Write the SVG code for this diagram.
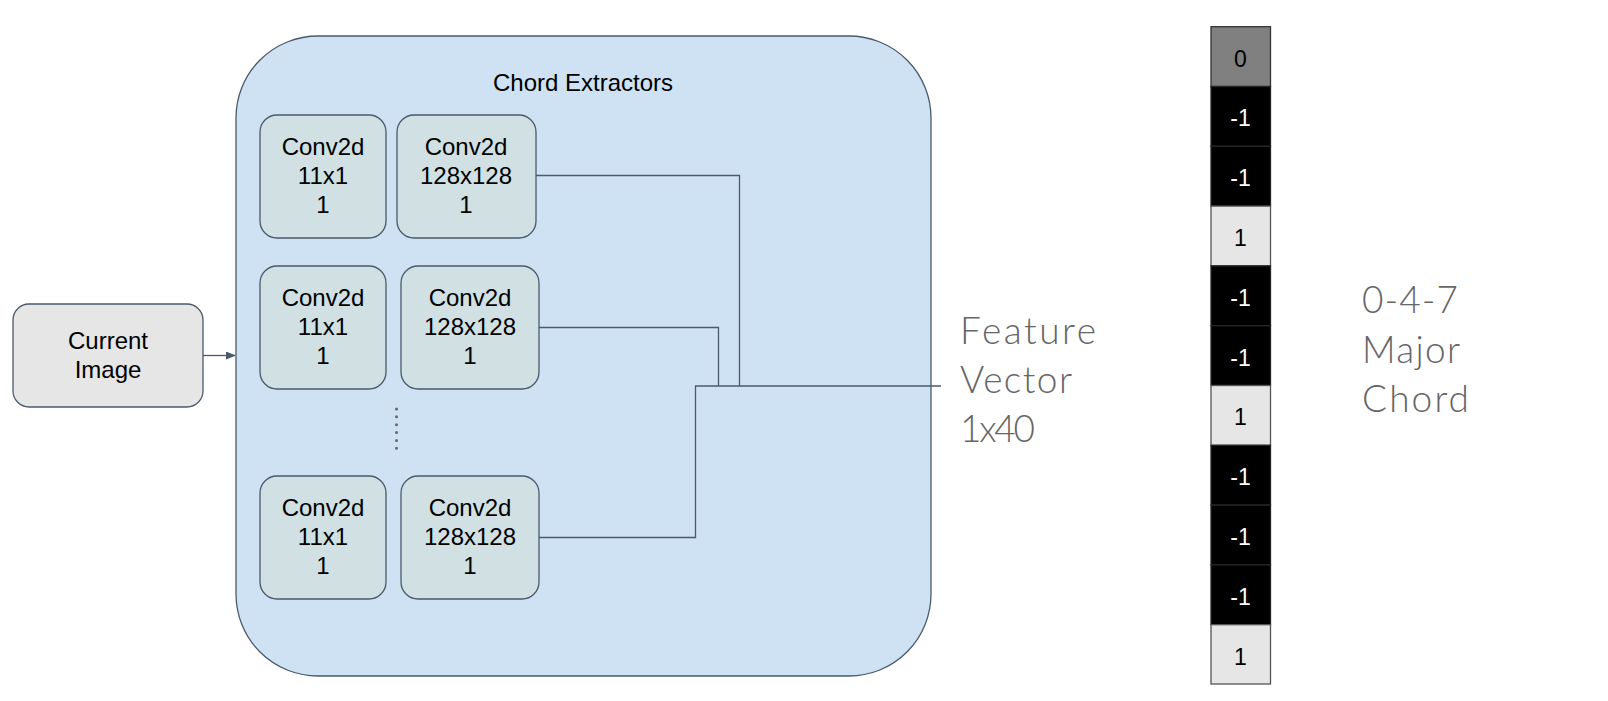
<svg xmlns="http://www.w3.org/2000/svg" width="1608" height="701" viewBox="0 0 1608 701">
<style>
.box{fill:#d0e0e3;stroke:#4a5a6b;stroke-width:1.3}
.t{font-family:"Liberation Sans",Arial,sans-serif;font-size:24px;fill:#000;text-anchor:middle}
.big{font-family:Lato,"Open Sans",sans-serif;font-weight:300;font-size:37px;fill:#666}
.ln{fill:none;stroke:#4a5a6b;stroke-width:1.3}
.neg{fill:#000;stroke:#262626;stroke-width:1.3}
.pos{fill:#e6e6e6;stroke:#555;stroke-width:1.3}
.wt{font-family:"Liberation Sans",Arial,sans-serif;font-size:23px;fill:#fff;text-anchor:middle}
.bt{font-family:"Liberation Sans",Arial,sans-serif;font-size:23px;fill:#000;text-anchor:middle}
</style>
<defs>
<marker id="ah" markerWidth="10" markerHeight="8" refX="9" refY="4" orient="auto" markerUnits="userSpaceOnUse">
<path d="M0,0 L10,4 L0,8 z" fill="#4a5a6b"/>
</marker>
</defs>
<rect width="1608" height="701" fill="#fff"/>
<g id="container">
<rect x="236" y="36" width="695" height="640" rx="82" ry="82" fill="#cfe2f3" stroke="#4a5a6b" stroke-width="1.3"/>
<text class="t" x="583" y="91">Chord Extractors</text>
</g>
<g id="current-image">
<rect x="13" y="304" width="190" height="103" rx="16" fill="#e6e6e6" stroke="#4a5a6b" stroke-width="1.3"/>
<text class="t" x="108" y="349">Current</text>
<text class="t" x="108" y="378">Image</text>
</g>
<g id="conv-a1">
<rect class="box" x="260" y="115" width="126" height="123" rx="17"/>
<text class="t" x="323" y="155">Conv2d</text>
<text class="t" x="323" y="184">11x1</text>
<text class="t" x="323" y="213">1</text>
</g>
<g id="conv-b1">
<rect class="box" x="397" y="115" width="139" height="123" rx="17"/>
<text class="t" x="466" y="155">Conv2d</text>
<text class="t" x="466" y="184">128x128</text>
<text class="t" x="466" y="213">1</text>
</g>
<g id="conv-a2">
<rect class="box" x="260" y="266" width="126" height="123" rx="17"/>
<text class="t" x="323" y="306">Conv2d</text>
<text class="t" x="323" y="335">11x1</text>
<text class="t" x="323" y="364">1</text>
</g>
<g id="conv-b2">
<rect class="box" x="401" y="266" width="138" height="123" rx="17"/>
<text class="t" x="470" y="306">Conv2d</text>
<text class="t" x="470" y="335">128x128</text>
<text class="t" x="470" y="364">1</text>
</g>
<g id="dots">
<line x1="396.5" y1="409" x2="396.5" y2="449" stroke="#666" stroke-width="3" stroke-linecap="round" stroke-dasharray="0 7.86"/>
</g>
<g id="conv-a3">
<rect class="box" x="260" y="476" width="126" height="123" rx="17"/>
<text class="t" x="323" y="516">Conv2d</text>
<text class="t" x="323" y="545">11x1</text>
<text class="t" x="323" y="574">1</text>
</g>
<g id="conv-b3">
<rect class="box" x="401" y="476" width="138" height="123" rx="17"/>
<text class="t" x="470" y="516">Conv2d</text>
<text class="t" x="470" y="545">128x128</text>
<text class="t" x="470" y="574">1</text>
</g>
<g id="connectors">
<line class="ln" x1="203" y1="355.5" x2="235" y2="355.5" marker-end="url(#ah)"/>
<polyline class="ln" points="536,175.5 739.5,175.5 739.5,386"/>
<polyline class="ln" points="539,327.5 718.5,327.5 718.5,386"/>
<polyline class="ln" points="539,537.5 695.5,537.5 695.5,386"/>
<line class="ln" x1="695" y1="386" x2="941" y2="386"/>
</g>
<g id="feature-vector">
<text class="big" x="960" y="344" textLength="136" lengthAdjust="spacing">Feature</text>
<text class="big" x="960" y="393" textLength="112" lengthAdjust="spacing">Vector</text>
<text class="big" x="960" y="442" textLength="75" lengthAdjust="spacing">1x40</text>
</g>
<g id="chord-vector">
<rect x="1211" y="26.7" width="59.5" height="59.8" fill="#808080" stroke="#333" stroke-width="1.3"/>
<text class="bt" x="1240.5" y="66.5">0</text>
<rect class="neg" x="1211" y="86.5" width="59.5" height="59.8"/>
<text class="wt" x="1240.5" y="126.3">-1</text>
<rect class="neg" x="1211" y="146.3" width="59.5" height="59.8"/>
<text class="wt" x="1240.5" y="186.1">-1</text>
<rect class="pos" x="1211" y="206.1" width="59.5" height="59.8"/>
<text class="bt" x="1240.5" y="245.9">1</text>
<rect class="neg" x="1211" y="265.9" width="59.5" height="59.8"/>
<text class="wt" x="1240.5" y="305.7">-1</text>
<rect class="neg" x="1211" y="325.7" width="59.5" height="59.8"/>
<text class="wt" x="1240.5" y="365.5">-1</text>
<rect class="pos" x="1211" y="385.5" width="59.5" height="59.8"/>
<text class="bt" x="1240.5" y="425.3">1</text>
<rect class="neg" x="1211" y="445.3" width="59.5" height="59.8"/>
<text class="wt" x="1240.5" y="485.1">-1</text>
<rect class="neg" x="1211" y="505.1" width="59.5" height="59.8"/>
<text class="wt" x="1240.5" y="544.9">-1</text>
<rect class="neg" x="1211" y="564.9" width="59.5" height="59.8"/>
<text class="wt" x="1240.5" y="604.7">-1</text>
<rect class="pos" x="1211" y="624.7" width="59.5" height="59.3"/>
<text class="bt" x="1240.5" y="664.5">1</text>
</g>
<g id="chord-label">
<text class="big" x="1362" y="313" textLength="96" lengthAdjust="spacing">0-4-7</text>
<text class="big" x="1362" y="363" textLength="98" lengthAdjust="spacing">Major</text>
<text class="big" x="1362" y="412" textLength="107" lengthAdjust="spacing">Chord</text>
</g>
</svg>
